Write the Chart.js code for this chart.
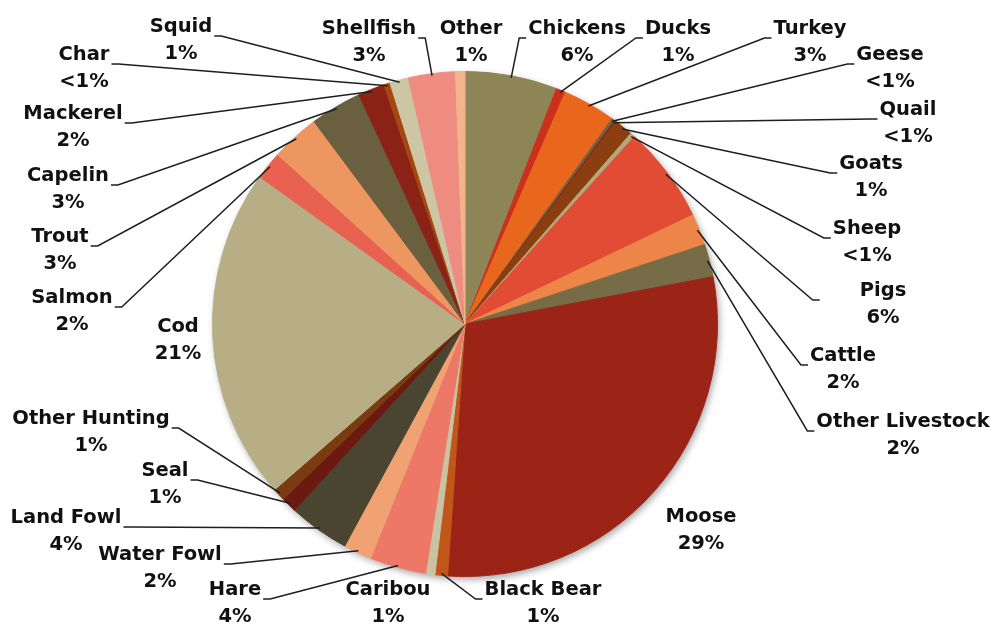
<!DOCTYPE html>
<html>
<head>
<meta charset="utf-8">
<script src="https://cdn.jsdelivr.net/npm/chart.js@4.4.1/dist/chart.umd.min.js"></script>
<style>
    html, body { margin: 0; padding: 0; background: #fff; }
    #wrap { width: 995px; height: 628px; position: relative; }
</style>
</head>
<body>
<div id="wrap"><canvas id="foodChart"></canvas></div>
<script>
const labels = ['Chickens', 'Ducks', 'Turkey', 'Geese', 'Quail', 'Goats', 'Sheep', 'Pigs', 'Cattle',
    'Other Livestock', 'Moose', 'Black Bear', 'Caribou', 'Hare', 'Water Fowl', 'Land Fowl', 'Seal',
    'Other Hunting', 'Cod', 'Salmon', 'Trout', 'Capelin', 'Mackerel', 'Char', 'Squid', 'Shellfish', 'Other'];

const shares = [5.9, 0.6, 3.4, 0.2, 0.1, 1.2, 0.3, 6.2, 2.0,
    2.1, 29.1, 0.8, 0.6, 3.6, 1.8, 3.9, 1.0,
    0.8, 21.3, 1.8, 3.1, 3.3, 1.7, 0.4, 1.2, 3.0, 0.6];

const colors = ['#8e8556', '#cc2f1c', '#e8671c', '#6b6342', '#8b2014', '#8b3e10', '#b3a878', '#e24b34', '#ee8548',
    '#766d48', '#9c2416', '#c0561a', '#c8c3a0', '#ee7868', '#f0a272', '#4a4530', '#6a1a10',
    '#7a3a12', '#b7ae86', '#e96150', '#ee9660', '#6a5f3e', '#8b2216', '#a5470f', '#ccc6a5', '#ee8c82', '#f3b48c'];

// where each label sits: [centre x, first line y, side the leader enters from, extra gap]
const labelSpots = [
    [577, 29, 'r'], [678, 29, 'r'], [810, 29, 'r'], [890, 55, 'r'], [908, 110, 'r'],
    [871, 164, 'r'], [867, 229, 'r'], [883, 291, 'r', 38], [843, 356, 'r'], [903, 422, 'r'],
    [701, 517, ''], [543, 590, 'r'], [388, 590, ''], [235, 590, 'l'], [160, 555, 'l'],
    [66, 518, 'l'], [165, 471, 'l'], [91, 419, 'l'], [178, 327, ''], [72, 298, 'l'],
    [60, 237, 'l'], [68, 176, 'l'], [73, 114, 'l'], [84, 55, 'l'], [181, 27, 'l'],
    [369, 29, 'l'], [471, 29, '']
];

function pctText(v) {
    return v < 0.5 ? '<1%' : Math.round(v) + '%';
}

const pieShadow = {
    id: 'pieShadow',
    beforeDatasetsDraw(chart) {
        const arc = chart.getDatasetMeta(0).data[0];
        if (!arc) return;
        const ctx = chart.ctx;
        ctx.save();
        ctx.shadowColor = 'rgba(0,0,0,0.35)';
        ctx.shadowBlur = 7;
        ctx.shadowOffsetX = 2;
        ctx.shadowOffsetY = 3;
        ctx.fillStyle = '#fff';
        ctx.beginPath();
        ctx.arc(arc.x, arc.y, arc.outerRadius, 0, Math.PI * 2);
        ctx.fill();
        ctx.restore();
    }
};

const outsideLabels = {
    id: 'outsideLabels',
    afterDatasetsDraw(chart) {
        const ctx = chart.ctx;
        const arcs = chart.getDatasetMeta(0).data;
        ctx.save();
        ctx.font = 'bold 19.5px "DejaVu Sans"';
        ctx.textAlign = 'center';
        ctx.textBaseline = 'middle';
        arcs.forEach((arc, i) => {
            const [lx, ly, side, gap = 0] = labelSpots[i];
            if (side) {
                const mid = (arc.startAngle + arc.endAngle) / 2;
                const px = arc.x + Math.cos(mid) * (arc.outerRadius - 2);
                const py = arc.y + Math.sin(mid) * (arc.outerRadius - 2);
                const w = ctx.measureText(labels[i]).width;
                const ay = ly + 9;
                const ax = side === 'r' ? lx - w / 2 - 2 - gap : lx + w / 2 + 2 + gap;
                const bx = side === 'r' ? ax - 7 : ax + 7;
                ctx.strokeStyle = '#1e1e1e';
                ctx.lineWidth = 1.5;
                ctx.beginPath();
                ctx.moveTo(px, py);
                ctx.lineTo(bx, ay);
                ctx.lineTo(ax, ay);
                ctx.stroke();
            }
            ctx.fillStyle = '#111';
            ctx.fillText(labels[i], lx, ly);
            ctx.fillText(pctText(shares[i]), lx, ly + 27);
        });
        ctx.restore();
    }
};

new Chart(document.getElementById('foodChart'), {
    type: 'pie',
    data: {
        labels: labels,
        datasets: [{
            data: shares,
            backgroundColor: colors,
            borderColor: colors,
            borderWidth: 1,
            hoverOffset: 0
        }]
    },
    options: {
        responsive: true,
        maintainAspectRatio: false,
        animation: false,
        layout: { padding: { top: 71, bottom: 51, left: 212, right: 277 } },
        plugins: {
            legend: { display: false },
            tooltip: { enabled: false }
        }
    },
    plugins: [pieShadow, outsideLabels]
});
</script>
</body>
</html>
